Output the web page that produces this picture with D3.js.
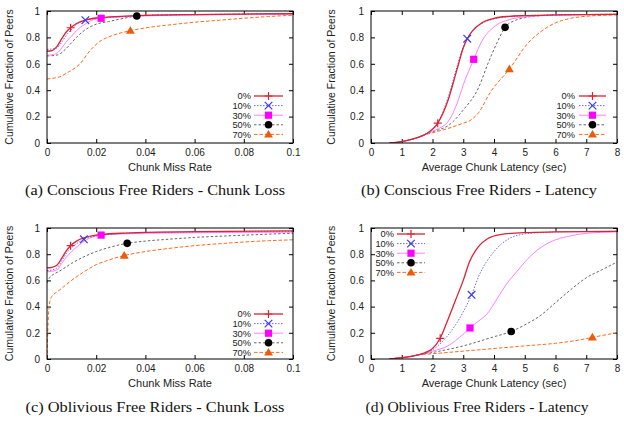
<!DOCTYPE html>
<html><head><meta charset="utf-8">
<script src="https://cdn.jsdelivr.net/npm/d3@7"></script>
<style>body{margin:0;background:#fff}svg{display:block}</style>
</head><body>
<script>
// ---------- data ----------
const seriesNames = ["0%", "10%", "30%", "50%", "70%"];
const missTicks = [0, 0.02, 0.04, 0.06, 0.08, 0.1];
const latTicks = [0, 1, 2, 3, 4, 5, 6, 7, 8];
const fracTicks = [0, 0.2, 0.4, 0.6, 0.8, 1];
const yLabel = "Cumulative Fraction of Peers";
const xLabels = ["Chunk Miss Rate", "Average Chunk Latency (sec)"];
const captions = [
  "(a) Conscious Free Riders - Chunk Loss",
  "(b) Conscious Free Riders - Latency",
  "(c) Oblivious Free Riders - Chunk Loss",
  "(d) Oblivious Free Riders - Latency"
];

// (a) Conscious, chunk miss rate
const a0 = [[0,0.695],[0.002,0.70],[0.004,0.73],[0.006,0.79],[0.008,0.845],[0.0096,0.873],[0.012,0.905],[0.015,0.928],[0.02,0.947],[0.03,0.96],[0.04,0.967],[0.06,0.973],[0.08,0.977],[0.1,0.98]];
const a10 = [[0,0.71],[0.002,0.712],[0.004,0.72],[0.006,0.765],[0.008,0.82],[0.01,0.86],[0.0125,0.905],[0.0156,0.93],[0.02,0.943],[0.03,0.957],[0.04,0.965],[0.06,0.972],[0.1,0.978]];
const a30 = [[0,0.665],[0.002,0.668],[0.004,0.68],[0.006,0.72],[0.008,0.77],[0.01,0.81],[0.0125,0.86],[0.015,0.895],[0.018,0.928],[0.022,0.945],[0.03,0.955],[0.04,0.963],[0.06,0.97],[0.1,0.975]];
const a50 = [[0,0.66],[0.003,0.663],[0.005,0.672],[0.0075,0.71],[0.01,0.76],[0.0125,0.81],[0.015,0.85],[0.02,0.9],[0.025,0.92],[0.03,0.94],[0.0365,0.962],[0.045,0.97],[0.06,0.973],[0.1,0.978]];
const a70 = [[0,0.485],[0.003,0.492],[0.005,0.50],[0.008,0.53],[0.0134,0.60],[0.0175,0.70],[0.0215,0.77],[0.026,0.81],[0.0339,0.851],[0.04,0.872],[0.05,0.895],[0.06,0.915],[0.07,0.93],[0.08,0.945],[0.09,0.958],[0.1,0.968]];
const markA = [[0.0096,0.873],[0.0156,0.93],[0.022,0.945],[0.0365,0.962],[0.0339,0.851]];

// (b) Conscious, latency
const b0 = [[0.6,0],[1,0.01],[1.5,0.04],[1.8,0.07],[2.17,0.15],[2.5,0.32],[2.8,0.56],[3.0,0.72],[3.13,0.79],[3.3,0.85],[3.6,0.91],[4,0.945],[4.5,0.96],[5,0.965],[6,0.97],[8,0.975]];
const b10 = [[0.6,0],[1,0.01],[1.5,0.04],[1.8,0.07],[2.2,0.16],[2.5,0.34],[2.8,0.58],[3.0,0.73],[3.13,0.79],[3.3,0.85],[3.6,0.905],[4,0.94],[4.5,0.958],[5,0.965],[6,0.97],[8,0.975]];
const b30 = [[0.6,0],[1,0.01],[1.5,0.04],[1.8,0.07],[2.2,0.11],[2.5,0.16],[2.8,0.3],[3.0,0.44],[3.34,0.634],[3.6,0.77],[4,0.88],[4.5,0.935],[5,0.955],[6,0.968],[8,0.975]];
const b50 = [[0.6,0],[1,0.01],[1.5,0.04],[1.8,0.07],[2.2,0.1],[2.5,0.13],[3,0.25],[3.5,0.42],[3.8,0.6],[4.1,0.76],[4.36,0.876],[4.7,0.93],[5,0.95],[5.5,0.965],[6,0.97],[8,0.975]];
const b70 = [[0.6,0],[1,0.01],[1.5,0.04],[1.8,0.065],[2.2,0.09],[2.5,0.11],[3,0.15],[3.22,0.17],[3.5,0.23],[3.87,0.38],[4.5,0.56],[5.1,0.755],[5.5,0.84],[6,0.91],[6.5,0.945],[7,0.96],[8,0.97]];
const markB = [[2.17,0.15],[3.13,0.79],[3.34,0.634],[4.36,0.876],[4.5,0.56]];

// (c) Oblivious, chunk miss rate
const c0 = [[0,0.695],[0.002,0.70],[0.004,0.715],[0.006,0.77],[0.008,0.83],[0.0096,0.865],[0.012,0.9],[0.015,0.925],[0.02,0.945],[0.03,0.96],[0.04,0.967],[0.06,0.972],[0.1,0.978]];
const c10 = [[0,0.675],[0.002,0.68],[0.004,0.695],[0.006,0.75],[0.008,0.81],[0.01,0.85],[0.012,0.88],[0.015,0.914],[0.02,0.94],[0.03,0.958],[0.04,0.965],[0.06,0.97],[0.1,0.975]];
const c30 = [[0,0.665],[0.002,0.67],[0.004,0.68],[0.006,0.73],[0.008,0.78],[0.01,0.82],[0.013,0.87],[0.016,0.91],[0.022,0.946],[0.03,0.955],[0.05,0.962],[0.1,0.968]];
const c50 = [[0,0.58],[0.001,0.62],[0.003,0.65],[0.005,0.67],[0.01,0.73],[0.015,0.78],[0.02,0.82],[0.025,0.85],[0.0326,0.883],[0.04,0.9],[0.05,0.915],[0.06,0.928],[0.07,0.937],[0.08,0.945],[0.09,0.953],[0.1,0.96]];
const c70 = [[0,0],[0.0003,0.2],[0.0006,0.34],[0.001,0.42],[0.0015,0.46],[0.0025,0.49],[0.0039,0.51],[0.006,0.54],[0.0096,0.595],[0.015,0.665],[0.02,0.72],[0.025,0.755],[0.0314,0.79],[0.04,0.82],[0.05,0.845],[0.06,0.865],[0.07,0.88],[0.08,0.893],[0.09,0.903],[0.1,0.91]];
const markC = [[0.0096,0.865],[0.015,0.914],[0.022,0.946],[0.0326,0.883],[0.0314,0.79]];

// (d) Oblivious, latency
const d0 = [[0.6,0],[1,0.01],[1.5,0.03],[2,0.08],[2.25,0.158],[2.5,0.3],[2.75,0.45],[3,0.6],[3.2,0.74],[3.5,0.86],[3.8,0.92],[4.2,0.95],[5,0.965],[6,0.97],[8,0.975]];
const d10 = [[0.6,0],[1,0.01],[1.5,0.03],[2,0.07],[2.5,0.18],[3,0.36],[3.27,0.49],[3.5,0.63],[4,0.82],[4.5,0.92],[5,0.955],[5.5,0.965],[6,0.97],[8,0.975]];
const d30 = [[0.6,0],[1,0.01],[1.5,0.03],[2,0.06],[2.5,0.1],[3,0.19],[3.22,0.237],[3.5,0.29],[3.76,0.34],[4.1,0.46],[4.4,0.57],[4.74,0.667],[5,0.74],[5.4,0.83],[6,0.91],[6.5,0.94],[7,0.96],[8,0.97]];
const d50 = [[0.6,0],[1,0.01],[1.5,0.03],[2,0.05],[3,0.1],[4,0.17],[4.56,0.21],[5,0.26],[5.5,0.33],[6,0.43],[6.5,0.53],[7,0.62],[7.5,0.68],[8,0.74]];
const d70 = [[0.6,0],[1,0.01],[1.5,0.03],[2,0.04],[3,0.06],[4,0.08],[5,0.1],[6,0.12],[7,0.155],[7.2,0.165],[8,0.2]];
const markD = [[2.25,0.158],[3.27,0.49],[3.22,0.237],[4.56,0.21],[7.2,0.165]];

// ---------- styles ----------
const lineColors = ["#dd2233", "#5a5af5", "#ff80ff", "#555555", "#ff6a1a"];
const markColors = ["#dd2233", "#3a3ae8", "#ff00ff", "#000000", "#ee5a0a"];
const dashes = [null, "1.5,1.5", null, "2.5,2", "3.5,2"];
const widths = [1.3, 0.9, 1, 0.9, 1];

const W = 624, H = 421;
const svg = d3.select("body").append("svg").attr("width", W).attr("height", H)
  .style("font-family", "'Liberation Sans', Arial, sans-serif");

const panels = [
  {box:[47,293,11,143], dom:[0,0.1], xt:missTicks, xl:xLabels[0], series:[a0,a10,a30,a50,a70], marks:markA, leg:{tx:251, l0:254, l1:283, y0:96}, ylx:9, cap:captions[0], capx:155, capw:260, capy:195},
  {box:[371,617,11,143], dom:[0,8], xt:latTicks, xl:xLabels[1], series:[b0,b10,b30,b50,b70], marks:markB, leg:{tx:575, l0:579, l1:606, y0:96}, ylx:331, cap:captions[1], capx:479, capw:236, capy:195},
  {box:[47,293,228,359], dom:[0,0.1], xt:missTicks, xl:xLabels[0], series:[c0,c10,c30,c50,c70], marks:markC, leg:{tx:251, l0:254, l1:283, y0:314}, ylx:9, cap:captions[2], capx:155, capw:259, capy:412},
  {box:[371,617,228,359], dom:[0,8], xt:latTicks, xl:xLabels[1], series:[d0,d10,d30,d50,d70], marks:markD, leg:{tx:394, l0:397, l1:425, y0:234}, ylx:331, cap:captions[3], capx:477, capw:223, capy:412}
];

function drawMarker(g, i, x, y) {
  const c = markColors[i];
  if (i === 0) {
    g.append("path").attr("d", `M${x-4},${y}H${x+4}M${x},${y-4}V${y+4}`).attr("stroke", c).attr("stroke-width", 1.2).attr("fill", "none");
  } else if (i === 1) {
    g.append("path").attr("d", `M${x-3.8},${y-3.8}L${x+3.8},${y+3.8}M${x-3.8},${y+3.8}L${x+3.8},${y-3.8}`).attr("stroke", c).attr("stroke-width", 1.2).attr("fill", "none");
  } else if (i === 2) {
    g.append("rect").attr("x", x-3.6).attr("y", y-3.6).attr("width", 7.2).attr("height", 7.2).attr("fill", c);
  } else if (i === 3) {
    g.append("circle").attr("cx", x).attr("cy", y).attr("r", 3.8).attr("fill", c);
  } else {
    g.append("path").attr("d", d3.symbol(d3.symbolTriangle, 34)()).attr("transform", `translate(${x},${y+0.6})`).attr("fill", c);
  }
}

panels.forEach(p => {
  const [x0, x1, y0, y1] = p.box;
  const x = d3.scaleLinear().domain(p.dom).range([x0, x1]);
  const y = d3.scaleLinear().domain([0, 1]).range([y1, y0]);
  const g = svg.append("g");
  const fmt = d => String(+d.toFixed(4));

  const styleAxis = a => {
    a.select(".domain").remove();
    a.selectAll("line").attr("stroke", "#000");
    a.selectAll("text").attr("font-size", 10).attr("fill", "#222").attr("font-family", "'Liberation Sans', Arial, sans-serif");
  };
  g.append("g").attr("transform", `translate(0,${y1})`)
    .call(d3.axisBottom(x).tickValues(p.xt).tickFormat(fmt).tickSizeInner(-4).tickSizeOuter(0).tickPadding(6)).call(styleAxis);
  g.append("g").attr("transform", `translate(0,${y0})`)
    .call(d3.axisTop(x).tickValues(p.xt).tickFormat("").tickSizeInner(-4).tickSizeOuter(0)).call(styleAxis);
  g.append("g").attr("transform", `translate(${x0},0)`)
    .call(d3.axisLeft(y).tickValues(fracTicks).tickFormat(fmt).tickSizeInner(-4).tickSizeOuter(0).tickPadding(7)).call(styleAxis);
  g.append("g").attr("transform", `translate(${x1},0)`)
    .call(d3.axisRight(y).tickValues(fracTicks).tickFormat("").tickSizeInner(-4).tickSizeOuter(0)).call(styleAxis);

  const clipId = "clip" + x0 + "_" + y0;
  g.append("clipPath").attr("id", clipId).append("rect").attr("x", x0).attr("y", y0 - 1).attr("width", x1 - x0).attr("height", y1 - y0 + 1);

  const line = d3.line().x(d => x(d[0])).y(d => y(d[1])).curve(d3.curveMonotoneX);
  const cg = g.append("g").attr("clip-path", `url(#${clipId})`);
  [4, 3, 2, 1, 0].forEach(i => {
    cg.append("path").datum(p.series[i]).attr("d", line)
      .attr("fill", "none").attr("stroke", lineColors[i]).attr("stroke-width", widths[i])
      .attr("stroke-dasharray", dashes[i]);
  });
  [4, 3, 2, 1, 0].forEach(i => drawMarker(g, i, x(p.marks[i][0]), y(p.marks[i][1])));

  g.append("rect").attr("x", x0).attr("y", y0).attr("width", x1 - x0).attr("height", y1 - y0)
    .attr("fill", "none").attr("stroke", "#000").attr("stroke-width", 1);

  seriesNames.forEach((n, i) => {
    const ly = p.leg.y0 + i * 9.6;
    g.append("text").attr("x", p.leg.tx).attr("y", ly).attr("dy", "0.36em").attr("text-anchor", "end")
      .attr("font-size", 9.3).attr("fill", "#222").text(n);
    g.append("line").attr("x1", p.leg.l0).attr("x2", p.leg.l1).attr("y1", ly).attr("y2", ly)
      .attr("stroke", lineColors[i]).attr("stroke-width", widths[i]).attr("stroke-dasharray", dashes[i]);
    drawMarker(g, i, (p.leg.l0 + p.leg.l1) / 2, ly);
  });

  g.append("text").attr("x", (x0 + x1) / 2).attr("y", y1 + 24).attr("dy", "0.35em").attr("text-anchor", "middle")
    .attr("font-size", 11).attr("fill", "#222").text(p.xl);
  g.append("text").attr("transform", `translate(${p.ylx},${(y0 + y1) / 2}) rotate(-90)`).attr("dy", "0.35em")
    .attr("text-anchor", "middle").attr("font-size", 10.5).attr("fill", "#222").text(yLabel);

  g.append("text").attr("x", p.capx).attr("y", p.capy).attr("text-anchor", "middle")
    .attr("font-family", "'Liberation Serif', 'DejaVu Serif', serif").attr("font-size", 15).attr("fill", "#111")
    .attr("textLength", p.capw).attr("lengthAdjust", "spacingAndGlyphs").text(p.cap);
});
</script>
</body></html>
